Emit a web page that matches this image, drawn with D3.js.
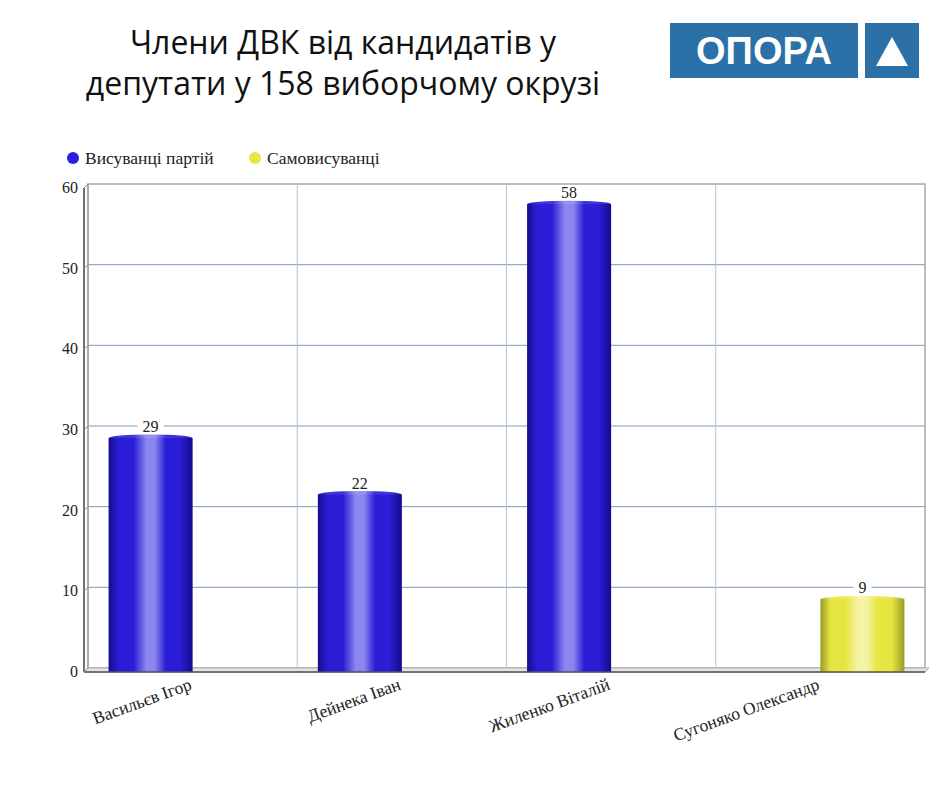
<!DOCTYPE html>
<html><head><meta charset="utf-8">
<script src="https://cdn.jsdelivr.net/npm/d3@7"></script>
<style>body{margin:0;background:#fff}svg{display:block}</style>
</head><body>
<svg id="c" width="940" height="788"></svg>
<script>
const titleLines = ["Члени ДВК  від кандидатів у", "депутати у 158 виборчому окрузі"];
const categories = ["Васильєв Ігор", "Дейнека Іван", "Жиленко Віталій", "Сугоняко Олександр"];
const seriesNames = ["Висуванці партій", "Самовисуванці"];
const partyValues = [29, 22, 58, 0];
const selfValues = [0, 0, 0, 9];
const yTicks = [0, 10, 20, 30, 40, 50, 60];
const colors = {
  "Висуванці партій": {edge: "#150b8f", main: "#2a1ed6", hi: "#8b86f0", legend: "#2a1ee0"},
  "Самовисуванці": {edge: "#9a9a26", main: "#e6e640", hi: "#f5f3a6", legend: "#e8e640"}
};

const svg = d3.select("#c");
const serif = "'Liberation Serif','DejaVu Serif',serif";

// Title
svg.append("g").selectAll("text").data(titleLines).join("text")
  .attr("x", 343).attr("y", (d, i) => 54 + i * 41)
  .attr("text-anchor", "middle")
  .attr("font-family", "'Open Sans','DejaVu Sans',sans-serif")
  .attr("font-size", 32).attr("fill", "#111").text(d => d);

// Logo
const logo = svg.append("g");
logo.append("rect").attr("x", 670).attr("y", 23).attr("width", 188).attr("height", 55).attr("fill", "#2b70a6");
logo.append("rect").attr("x", 865).attr("y", 23).attr("width", 54).attr("height", 55).attr("fill", "#2b70a6");
logo.append("text").attr("x", 764).attr("y", 64).attr("text-anchor", "middle")
  .attr("font-family", "'Liberation Sans',Arial,sans-serif").attr("font-weight", "bold")
  .attr("font-size", 38).attr("fill", "#fff").text("ОПОРА");
logo.append("path").attr("d", "M892,37 L908,66 L876,66 Z").attr("fill", "#fff");

// Legend
const leg = svg.append("g");
const legX = [73, 255];
seriesNames.forEach((s, i) => {
  leg.append("circle").attr("cx", legX[i]).attr("cy", 158).attr("r", 6).attr("fill", colors[s].legend);
  leg.append("text").attr("x", legX[i] + 12).attr("y", 164)
    .attr("font-family", serif).attr("font-size", 17.5).attr("fill", "#222").text(s);
});

// Scales
const dx = 4, dy = -4;
const y = d3.scaleLinear().domain([0, 60]).range([672, 188]);
const x = d3.scaleBand().domain(categories).range([88, 925]);
const xs = d3.scaleBand().domain(seriesNames).range([0, x.bandwidth()]).paddingOuter(0.245).paddingInner(0);

// Back wall
const plot = svg.append("g");
plot.append("rect").attr("x", 84 + dx).attr("y", y(60) + dy)
  .attr("width", 925 - 88).attr("height", y(0) - y(60))
  .attr("fill", "#fff").attr("stroke", "#a8a8a8").attr("stroke-width", 1.5);
plot.selectAll("line.hg").data(yTicks.filter(t => t > 0 && t < 60)).join("line")
  .attr("x1", 84 + dx).attr("x2", 925)
  .attr("y1", d => y(d) + dy).attr("y2", d => y(d) + dy)
  .attr("stroke", "#7d9cbd").attr("stroke-width", 1);
const bounds = categories.slice(1).map(c => x(c));
plot.selectAll("line.vg").data(bounds).join("line")
  .attr("x1", d => d).attr("x2", d => d)
  .attr("y1", y(60) + dy).attr("y2", y(0) + dy)
  .attr("stroke", "#b3c5d8").attr("stroke-width", 1);
plot.selectAll("line.vf").data(bounds).join("line")
  .attr("x1", d => d).attr("x2", d => d - dx)
  .attr("y1", y(0) + dy).attr("y2", y(0))
  .attr("stroke", "#b3c5d8").attr("stroke-width", 1);
plot.append("path")
  .attr("d", `M84,${y(0)} L${84 + dx},${y(0) + dy} L${925 + dx},${y(0) + dy} L${925},${y(0)} Z`)
  .attr("fill", "#e4e4e4").attr("stroke", "#b0b0b0").attr("stroke-width", 1);
plot.append("line").attr("x1", 84 + dx).attr("x2", 84 + dx).attr("y1", y(60) + dy).attr("y2", y(0) + dy)
  .attr("stroke", "#a8a8a8").attr("stroke-width", 1.5);

// Gradients
const defs = svg.append("defs");
seriesNames.forEach((s, i) => {
  const g = defs.append("linearGradient").attr("id", "g" + i).attr("x1", "0").attr("x2", "1").attr("y1", "0").attr("y2", "0");
  [[0, colors[s].edge], [0.12, colors[s].main], [0.3, colors[s].main], [0.45, colors[s].hi], [0.55, colors[s].hi], [0.68, colors[s].main], [0.85, colors[s].main], [1, colors[s].edge]]
    .forEach(([o, c]) => g.append("stop").attr("offset", o).attr("stop-color", c));
});

// Bars
const data = [];
categories.forEach((c, i) => {
  [partyValues[i], selfValues[i]].forEach((v, j) => { if (v > 0) data.push({c, s: seriesNames[j], si: j, v}); });
});
const bw = xs.bandwidth();
const bars = svg.append("g").selectAll("g").data(data).join("g");
bars.append("rect")
  .attr("x", d => x(d.c) + xs(d.s)).attr("y", d => y(d.v))
  .attr("width", bw).attr("height", d => y(0) - y(d.v))
  .attr("fill", d => `url(#g${d.si})`);
bars.append("ellipse")
  .attr("cx", d => x(d.c) + xs(d.s) + bw / 2).attr("cy", d => y(d.v))
  .attr("rx", bw / 2).attr("ry", 3.5)
  .attr("fill", d => `url(#g${d.si})`).attr("opacity", 0.9);
bars.each(function(d) {
  const g = d3.select(this);
  const cx = x(d.c) + xs(d.s) + bw / 2;
  const t = g.append("text").attr("x", cx).attr("y", y(d.v) - 6)
    .attr("text-anchor", "middle").attr("font-family", serif).attr("font-size", 16).attr("fill", "#222").text(d.v);
  const bb = t.node().getBBox();
  g.insert("rect", "text").attr("x", bb.x - 5).attr("y", bb.y + 2).attr("width", bb.width + 10).attr("height", bb.height - 4).attr("fill", "#fff");
});

// Front axes
const ax = svg.append("g");
ax.append("line").attr("x1", 84).attr("x2", 84).attr("y1", y(60)).attr("y2", y(0)).attr("stroke", "#444").attr("stroke-width", 1.5);
ax.append("line").attr("x1", 84).attr("x2", 925).attr("y1", y(0)).attr("y2", y(0)).attr("stroke", "#555").attr("stroke-width", 1.5);
ax.selectAll("line.t").data(yTicks).join("line")
  .attr("x1", 84).attr("x2", 84 + dx).attr("y1", d => y(d)).attr("y2", d => y(d) + dy)
  .attr("stroke", "#888");
ax.selectAll("text.yt").data(yTicks).join("text")
  .attr("x", 78).attr("y", d => y(d) + 5).attr("text-anchor", "end")
  .attr("font-family", serif).attr("font-size", 16).attr("fill", "#222").text(d => d);
ax.selectAll("text.xt").data(categories).join("text")
  .attr("transform", d => `translate(${x(d) + x.bandwidth() / 2},${y(0) + 17}) rotate(-20)`)
  .attr("text-anchor", "end").attr("font-family", serif).attr("font-size", 17.5).attr("fill", "#222").text(d => d);
</script>
</body></html>
